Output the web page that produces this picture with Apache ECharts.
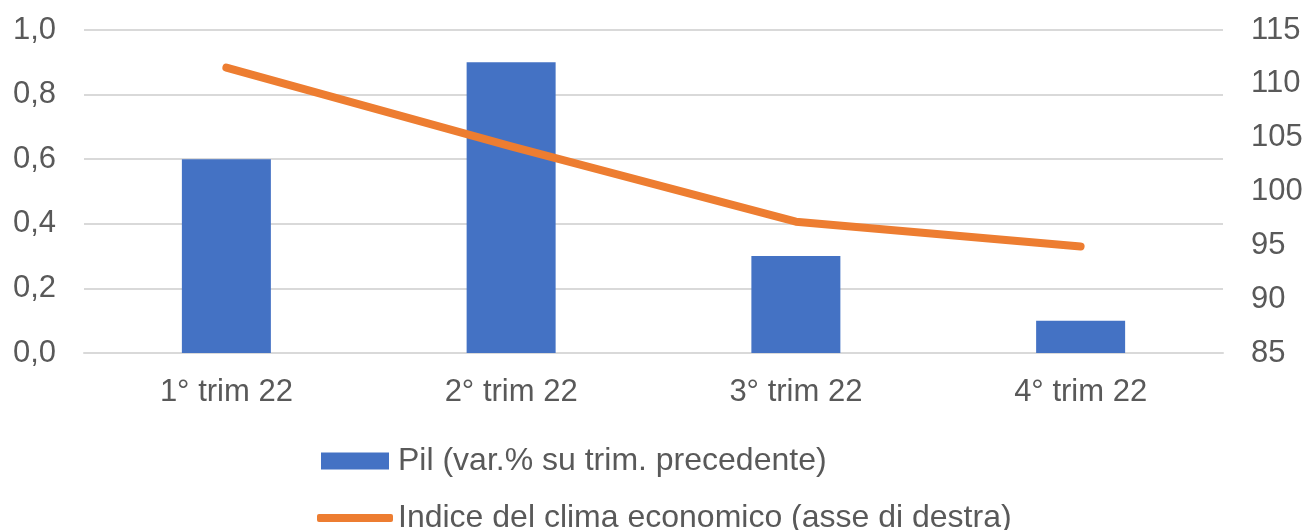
<!DOCTYPE html>
<html>
<head>
<meta charset="utf-8">
<script src="https://cdn.jsdelivr.net/npm/echarts@6/dist/echarts.min.js"></script>
<style>
  html, body { margin: 0; padding: 0; background: #fff; }
  #chart { width: 1306px; height: 530px; }
</style>
</head>
<body>
<div id="chart"></div>
<script>
// dati
const categories = ['1° trim 22', '2° trim 22', '3° trim 22', '4° trim 22'];
const pil = [0.6, 0.9, 0.3, 0.1];
const clima = [111.5, 104.2, 97.2, 94.9];
const namePil = 'Pil (var.% su trim. precedente)';
const nameClima = 'Indice del clima economico (asse di destra)';

const textColor = '#595959';
const gridColor = '#d9d9d9';
const font = 'Liberation Sans, Arial, sans-serif';

let myChart = echarts.init(document.getElementById('chart'));
let options = {
  animation: false,
  textStyle: { fontFamily: font },
  grid: { left: 84, right: 83, top: 30, bottom: 177 },
  legend: [
    {
      data: [namePil],
      left: 321, top: 445, padding: 0,
      itemWidth: 68, itemHeight: 17,
      icon: 'rect',
      textStyle: { color: textColor, fontSize: 32, fontFamily: font, padding: [0, 0, 0, 4] }
    },
    {
      data: [nameClima],
      left: 317, top: 502, padding: 0,
      itemWidth: 76, itemHeight: 8,
      icon: 'roundRect',
      textStyle: { color: textColor, fontSize: 32, fontFamily: font }
    }
  ],
  xAxis: {
    type: 'category',
    data: categories,
    axisLine: { lineStyle: { color: gridColor, width: 2 } },
    axisTick: { show: false },
    axisLabel: { color: textColor, fontSize: 31, margin: 24, fontFamily: font }
  },
  yAxis: [
    {
      type: 'value',
      min: 0, max: 1, interval: 0.2,
      axisLine: { show: false },
      axisTick: { show: false },
      splitLine: { lineStyle: { color: gridColor, width: 2 } },
      axisLabel: {
        color: textColor, fontSize: 31, margin: 28, fontFamily: font,
        formatter: v => v.toFixed(1).replace('.', ',')
      }
    },
    {
      type: 'value',
      min: 85, max: 115, interval: 5,
      position: 'right',
      axisLine: { show: false },
      axisTick: { show: false },
      splitLine: { show: false },
      axisLabel: { color: textColor, fontSize: 31, margin: 28, fontFamily: font }
    }
  ],
  series: [
    {
      name: namePil,
      type: 'bar',
      data: pil,
      barWidth: 89,
      itemStyle: { color: '#4472c4' }
    },
    {
      name: nameClima,
      type: 'line',
      yAxisIndex: 1,
      data: clima,
      symbol: 'none',
      itemStyle: { color: '#ed7d31' },
      lineStyle: { color: '#ed7d31', width: 8, cap: 'round', join: 'round' }
    }
  ]
};
myChart.setOption(options);
</script>
</body>
</html>
